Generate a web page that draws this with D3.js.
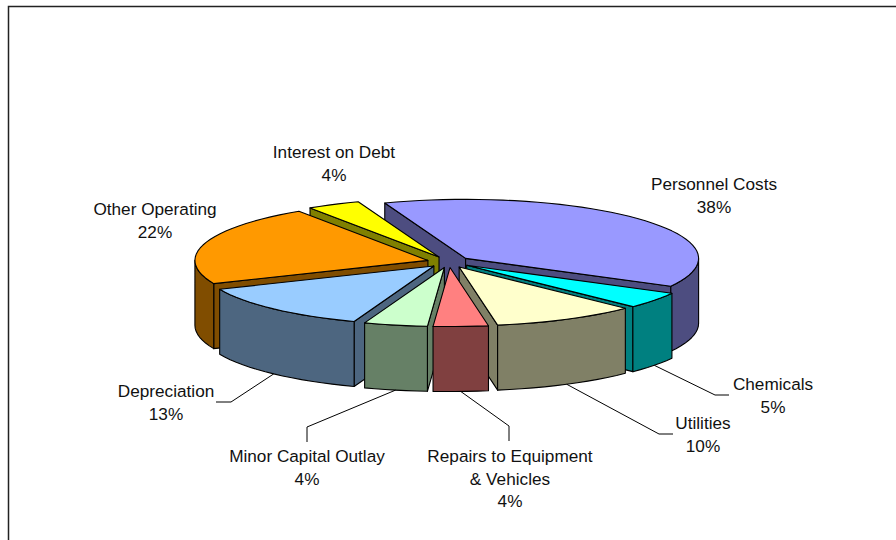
<!DOCTYPE html>
<html>
<head>
<meta charset="utf-8">
<script src="https://cdnjs.cloudflare.com/ajax/libs/d3/7.8.5/d3.min.js"></script>
<style>
html,body{margin:0;padding:0;background:#fff;overflow:hidden}
svg{display:block}
text{font-family:"Liberation Sans",Arial,sans-serif;font-size:17.2px;fill:#111}
</style>
</head>
<body>
<svg id="chart" width="896" height="540"></svg>
<script>
// Data
const categories = ["Personnel Costs","Chemicals","Utilities","Repairs to Equipment\n& Vehicles","Minor Capital Outlay","Depreciation","Other Operating","Interest on Debt"];
const shares = [38.49,4.51,10.0,3.8,4.4,13.0,22.1,3.7];
const topColors = ["#9999FF","#00FFFF","#FFFFCC","#FF8080","#CCFFCC","#99CCFF","#FF9900","#FFFF00"];
const wallColors = ["#4D4D80","#008080","#808066","#804040","#668066","#4D6680","#804D00","#808000"];

// Layout
const cx = 449, cy = 262, rx = 233, ry = 59, depth = 65, explode = 22;
const paintOrder = [0,7,6,1,2,5,4,3];
const labelAnchors = [[714,190],[773,390],[703,429],[510,462],[307,462],[166,397],[155,215],[334,158]];
const leaderKnees = [null,[[715,395],[729,395]],[[659,434],[673,434]],[[509,426],[509,441]],[[307,427],[307,442]],[[231,402],[216,402]],null,null];

const rad = d => d * Math.PI / 180;
const svg = d3.select("#chart");
const total = d3.sum(shares);
const pct = d3.format(".0%");
const arcs = d3.pie().value(d => d).sort(null).startAngle(rad(-20.3)).endAngle(rad(339.7))(shares);

const line = d3.line();
function geom(a){
  const mid = (a.startAngle + a.endAngle) / 2;
  const ox = cx + explode * Math.sin(mid), oy = cy - explode * (ry / rx) * Math.cos(mid);
  const pt = (t, dz = 0) => [ox + rx * Math.sin(t), oy - ry * Math.cos(t) + dz];
  return {mid, ox, oy, pt};
}
function arcPts(pt, a0, a1, dz){
  const n = Math.max(2, Math.ceil((a1 - a0) / rad(3)));
  return d3.range(n + 1).map(i => pt(a0 + (a1 - a0) * i / n, dz));
}

const g = svg.append("g");
paintOrder.forEach(i => {
  const a = arcs[i], s = geom(a), gs = g.append("g");
  const face = (pts, fill) => gs.append("path").attr("d", line(pts) + "Z").attr("fill", fill)
    .attr("stroke", "#000").attr("stroke-width", 1.1).attr("stroke-linejoin", "round");
  const cut = t => face([[s.ox, s.oy], s.pt(t), s.pt(t, depth), [s.ox, s.oy + depth]], wallColors[i]);
  if (Math.sin(a.startAngle) < 0) cut(a.startAngle);
  if (Math.sin(a.endAngle) > 0) cut(a.endAngle);
  const lo = Math.max(a.startAngle, rad(90)), hi = Math.min(a.endAngle, rad(270));
  if (hi > lo) face(arcPts(s.pt, lo, hi, 0).concat(arcPts(s.pt, lo, hi, depth).reverse()), wallColors[i]);
  face([[s.ox, s.oy]].concat(arcPts(s.pt, a.startAngle, a.endAngle, 0)), topColors[i]);
});

// Leader lines
arcs.forEach((a, i) => {
  if (!leaderKnees[i]) return;
  const s = geom(a);
  svg.append("path").attr("d", line([s.pt(s.mid, depth)].concat(leaderKnees[i])))
    .attr("fill", "none").attr("stroke", "#000").attr("stroke-width", 1);
});

// Labels
categories.forEach((name, i) => {
  const lines = name.split("\n").concat(pct(shares[i] / total));
  const t = svg.append("text").attr("text-anchor", "middle");
  lines.forEach((l, k) => t.append("tspan").attr("x", labelAnchors[i][0]).attr("y", labelAnchors[i][1] + k * 22.5).text(l));
});

// Frame: only the top and left edges are in view
svg.append("path").attr("d", line([[8.5, 540], [8.5, 6.5], [896, 6.5]]))
  .attr("fill", "none").attr("stroke", "#222").attr("stroke-width", 1.5);
</script>
</body>
</html>
